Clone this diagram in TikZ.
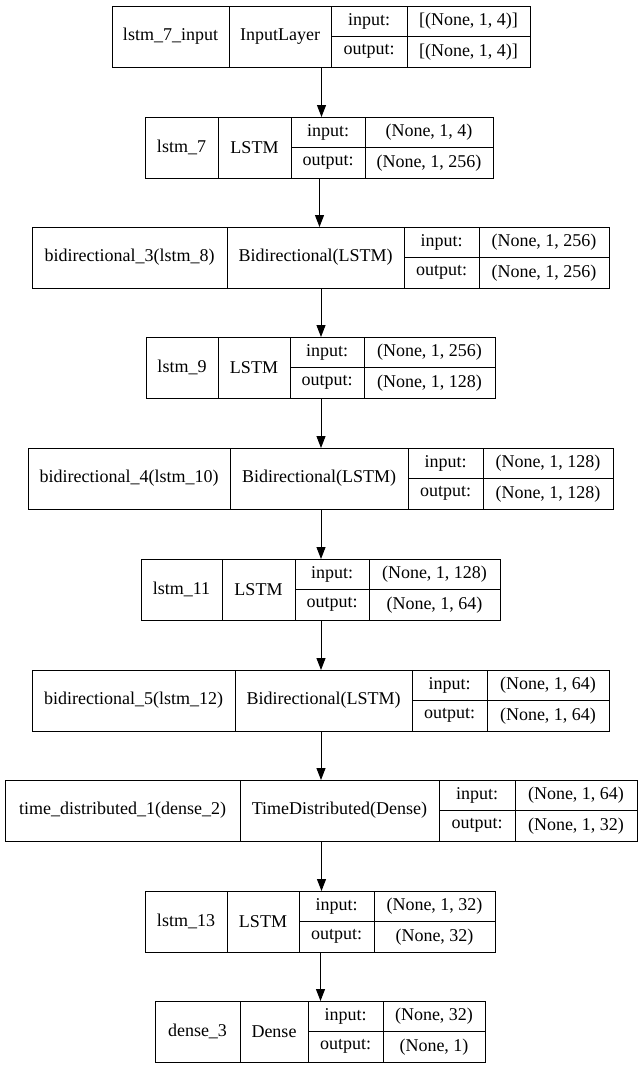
\documentclass[tikz,border=0pt]{standalone}
\usepackage{fontspec}
\setmainfont{Liberation Serif}
\usepackage{tikz}
\usetikzlibrary{arrows.meta}
\tikzset{
	layerbox/.style={draw, line width=1pt, inner sep=0pt, anchor=north west},
	txt/.style={inner sep=0pt, font=\fontsize{18}{20}\selectfont},
	flow/.style={-{Triangle[length=12pt,width=9pt]}, line width=1pt}
}
\newcommand{\rowh}{61}

\begin{document}
\begin{tikzpicture}[x=1pt,y=-1pt]
	\useasboundingbox (0,0) rectangle (641,1069);
	%layers: name/top/x0/x1/x2/x3/x4/label/type/input/output
	\foreach \n/\t/\a/\b/\c/\d/\e/\lab/\typ/\inp/\outp in {
		l1/6/112/229/331/407/530/{lstm\_7\_input}/{InputLayer}/{[(None, 1, 4)]}/{[(None, 1, 4)]},
		l2/117/145/218/291/365/493/{lstm\_7}/{LSTM}/{(None, 1, 4)}/{(None, 1, 256)},
		l3/227/32/227/404/479/609/{bidirectional\_3(lstm\_8)}/{Bidirectional(LSTM)}/{(None, 1, 256)}/{(None, 1, 256)},
		l4/337/146/218/290/364/495/{lstm\_9}/{LSTM}/{(None, 1, 256)}/{(None, 1, 128)},
		l5/448/28/230/408/483/613/{bidirectional\_4(lstm\_10)}/{Bidirectional(LSTM)}/{(None, 1, 128)}/{(None, 1, 128)},
		l6/559/141/222/295/369/500/{lstm\_11}/{LSTM}/{(None, 1, 128)}/{(None, 1, 64)},
		l7/670/32/235/412/487/609/{bidirectional\_5(lstm\_12)}/{Bidirectional(LSTM)}/{(None, 1, 64)}/{(None, 1, 64)},
		l8/780/5/240/439/515/637/{time\_distributed\_1(dense\_2)}/{TimeDistributed(Dense)}/{(None, 1, 64)}/{(None, 1, 32)},
		l9/891/145/227/299/374/495/{lstm\_13}/{LSTM}/{(None, 1, 32)}/{(None, 32)},
		l10/1001/155/240/308/383/485/{dense\_3}/{Dense}/{(None, 32)}/{(None, 1)}
	}{
		%outer box
		\node[layerbox, minimum width={(\e-\a)*1pt}, minimum height=\rowh pt] (\n) at (\a,\t) {};
		%cells
		\draw[line width=1pt] (\b,\t) -- ++(0,\rowh);
		\draw[line width=1pt] (\c,\t) -- ++(0,\rowh);
		\draw[line width=1pt] (\d,\t) -- ++(0,\rowh);
		\draw[line width=1pt] (\c,\t+\rowh/2) -- (\e,\t+\rowh/2);
		%texts
		\node[txt] (\n-lab) at ({(\a+\b)/2},{\t+\rowh/2}) {\lab};
		\node[txt] (\n-typ) at ({(\b+\c)/2},{\t+\rowh/2}) {\typ};
		\node[txt] (\n-ik) at ({(\c+\d)/2},{\t+\rowh/4}) {input:};
		\node[txt] (\n-ok) at ({(\c+\d)/2},{\t+3*\rowh/4}) {output:};
		\node[txt] (\n-iv) at ({(\d+\e)/2},{\t+\rowh/4}) {\inp};
		\node[txt] (\n-ov) at ({(\d+\e)/2},{\t+3*\rowh/4}) {\outp};
	}
	%connectors
	\foreach \u/\v in {l1/l2,l2/l3,l3/l4,l4/l5,l5/l6,l6/l7,l7/l8,l8/l9,l9/l10}
		\draw[flow] (\u.south) -- (\u.south |- \v.north);
\end{tikzpicture}
\end{document}
